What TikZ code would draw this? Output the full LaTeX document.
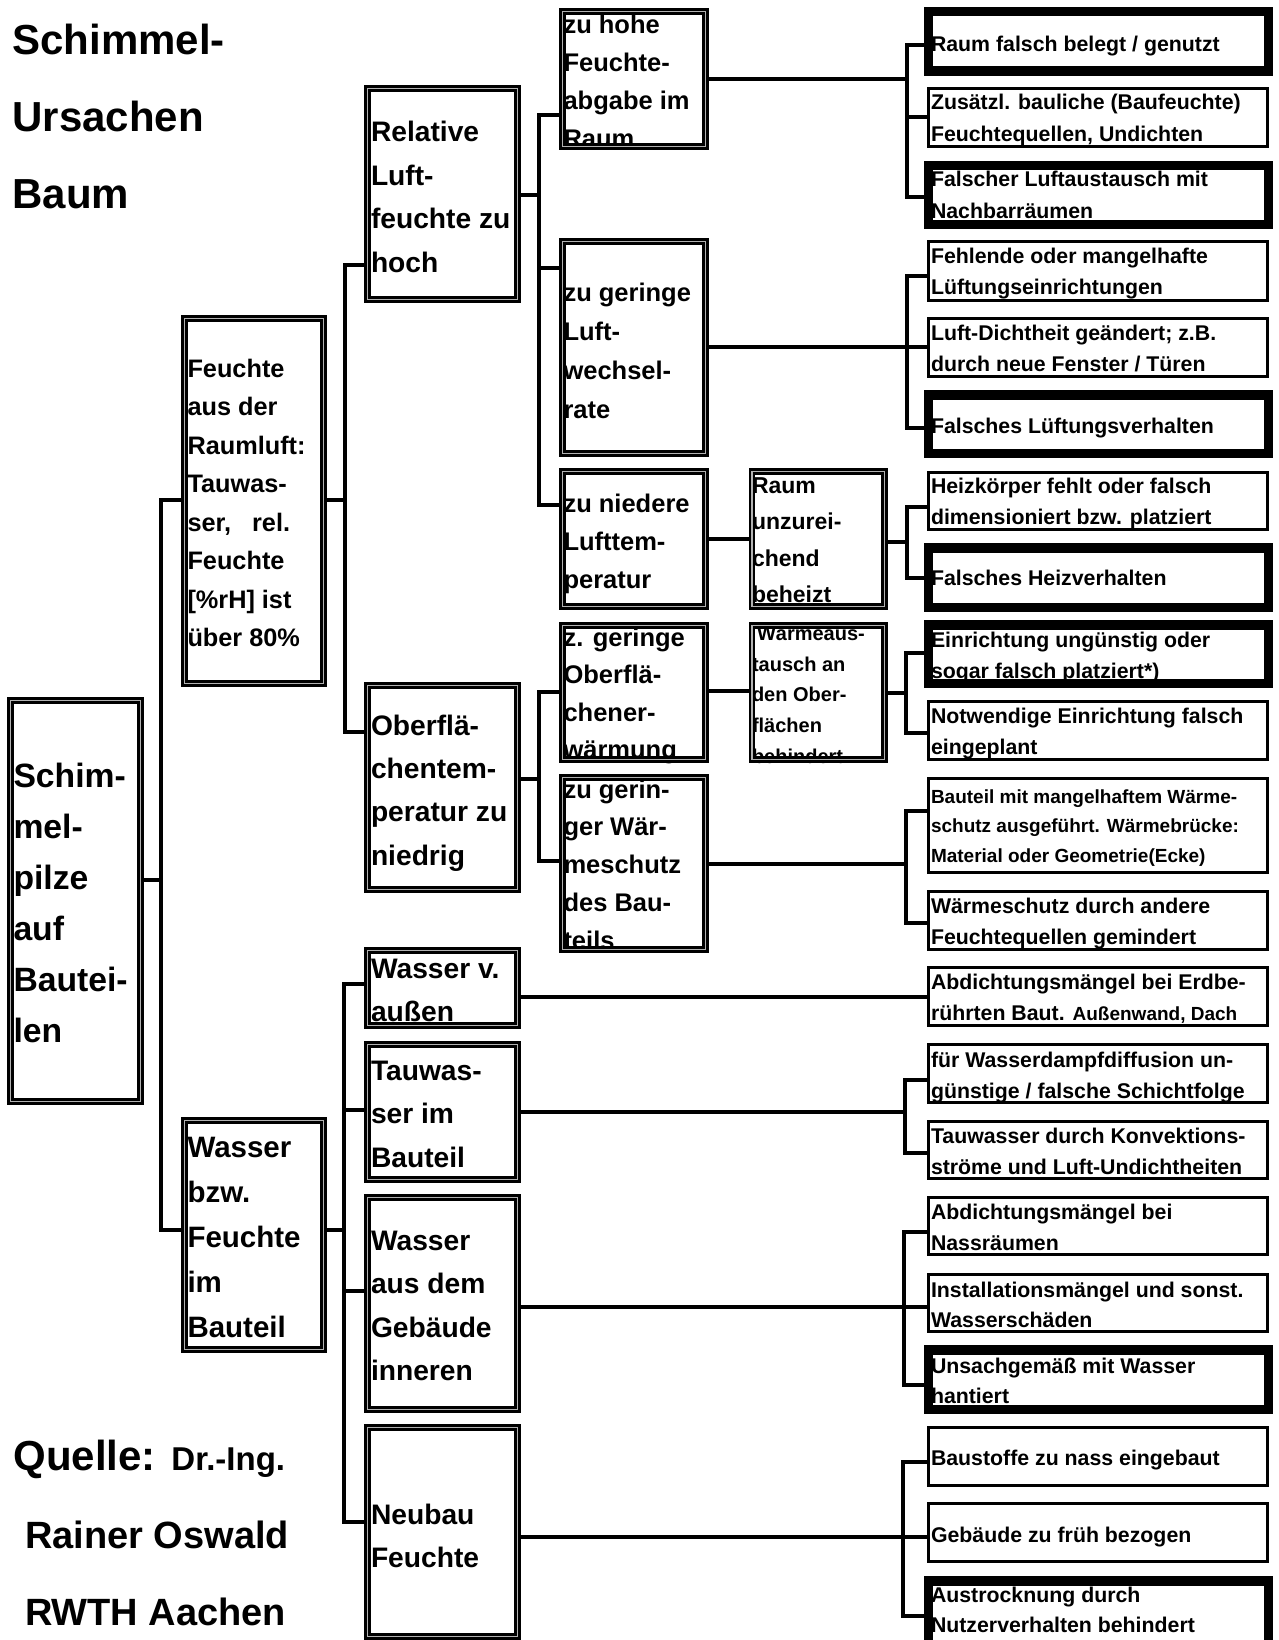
\documentclass[tikz,border=0pt]{standalone}
\usepackage{fontspec}
\setmainfont{Liberation Sans}
\pgfdeclarelayer{bg}
\pgfdeclarelayer{txtl}
\pgfsetlayers{bg,txtl,main}
\newcommand\mkdbl[5]{\node[dblbox, minimum width={#4-#2-6.6}, minimum height={#5-#3-6.6}] (#1) at ({(#2+#4)/2},{(#3+#5)/2}) {};}
\newcommand\mkthin[5]{\node[thinbox, minimum width={#4-#2-3}, minimum height={#5-#3-3}] (#1) at ({(#2+#4)/2},{(#3+#5)/2}) {};}
\newcommand\mkthick[5]{\node[thickbox, minimum width={#4-#2-9.5}, minimum height={#5-#3-9.5}] (#1) at ({(#2+#4)/2},{(#3+#5)/2}) {};}
\newcommand\txtlines[6]{\foreach \l [count=\i] in {#6}{\node[txt, font=\fontsize{#2}{#2}\selectfont\bfseries] (#1-\i) at (#3,{#4+(\i-1)*(#5)}) {\l};}}
\begin{document}
\begin{tikzpicture}[x=1pt,y=-1pt,
  dblbox/.style={draw=black, line width=2.6pt, double=gray!60, double distance=1.4pt, inner sep=0pt, outer sep=0pt, rectangle},
  thinbox/.style={draw=black, line width=3pt, inner sep=0pt, outer sep=0pt, rectangle},
  thickbox/.style={draw=black, line width=9.5pt, inner sep=0pt, outer sep=0pt, rectangle},
  txt/.style={anchor=base west, inner sep=0pt, outer sep=0pt},
  conn/.style={draw=black, line width=3.5pt}]
\useasboundingbox (0,0) rectangle (1278,1640);

% ---------- boxes ----------
\mkdbl{schim}{7}{697}{143.6}{1105}
\mkdbl{feu}{181}{315}{327}{687}
\mkdbl{wbz}{181}{1117}{327}{1353}
\mkdbl{rel}{364}{85}{521}{303}
\mkdbl{obf}{364}{682}{521}{893}
\mkdbl{wva}{364}{947}{521}{1029}
\mkdbl{tau}{364}{1041}{521}{1183}
\mkdbl{wai}{364}{1194}{521}{1413}
\mkdbl{neu}{364}{1424}{521}{1640}
\mkdbl{zuh}{559}{8}{709}{150}
\mkdbl{zug}{559}{238}{709}{457}
\mkdbl{zun}{559}{468}{709}{610}
\mkdbl{zgo}{559}{622}{709}{763}
\mkdbl{zgw}{559}{774}{709}{953}
\mkdbl{raum}{748.5}{468}{888}{610}
\mkdbl{wae}{748.5}{622}{888}{763}

\mkthick{r1}{923.5}{7}{1273}{76}
\mkthin{r2}{927}{87}{1269}{148}
\mkthick{r3}{923.5}{161}{1273}{229}
\mkthin{r4}{927}{240}{1269}{302}
\mkthin{r5}{927}{317}{1269}{378}
\mkthick{r6}{923.5}{390}{1273}{458}
\mkthin{r7}{927}{471}{1269}{531}
\mkthick{r8}{923.5}{543}{1273}{612}
\mkthick{r9}{923.5}{620}{1273}{688}
\mkthin{r10}{927}{700}{1269}{761}
\mkthin{r11}{927}{777}{1269}{874}
\mkthin{r12}{927}{890}{1269}{951}
\mkthin{r13}{927}{966}{1269}{1027}
\mkthin{r14}{927}{1043}{1269}{1104}
\mkthin{r15}{927}{1120}{1269}{1180}
\mkthin{r16}{927}{1196}{1269}{1256}
\mkthin{r17}{927}{1273}{1269}{1333}
\mkthick{r18}{923.5}{1345}{1273}{1414}
\mkthin{r19}{927}{1426}{1269}{1487}
\mkthin{r20}{927}{1502}{1269}{1563}
\mkthick{r21}{923.5}{1576}{1273}{1660}

% ---------- texts ----------
\begin{pgfonlayer}{txtl}
\txtlines{title}{42}{12.5}{55}{76.5}{Schimmel-,Ursachen,Baum}
\node[txt, font=\fontsize{42}{42}\selectfont\bfseries] (src1) at (13.5,1470) {Quelle: {\fontsize{33}{33}\selectfont Dr.-Ing.}};
\txtlines{src}{38}{25}{1548}{77}{Rainer Oswald,RWTH Aachen}

\txtlines{tschim}{33.7}{13.5}{787}{51}{Schim-,mel-,pilze,auf,Bautei-,len}
\txtlines{tfeu}{25.3}{187.5}{377}{38.5}{Feuchte,aus der,Raumluft:,Tauwas-,{ser,\hspace{21pt}rel.},Feuchte,[\%rH] ist,über 80\%}
\txtlines{twbz}{29.5}{187.5}{1157}{45.2}{Wasser,bzw.,Feuchte,im,Bauteil}

\txtlines{trel}{28.2}{371}{142}{43.4}{Relative,Luft-,feuchte zu,hoch}
\txtlines{tobf}{28.2}{371}{735}{43.4}{Oberflä-,chentem-,peratur zu,niedrig}
\txtlines{twva}{28.2}{371}{978}{43.5}{Wasser v.,außen}
\txtlines{ttau}{28.2}{371}{1080}{43.5}{Tauwas-,ser im,Bauteil}
\txtlines{twai}{28.2}{371}{1250}{43.5}{Wasser,aus dem,Gebäude,inneren}
\txtlines{tneu}{28.2}{371}{1524}{43.5}{Neubau,Feuchte}

\txtlines{tzuh}{25.5}{563.5}{34}{38}{zu hohe,Feuchte-,abgabe im,Raum}
\txtlines{tzug}{25.5}{563.5}{301}{39}{zu geringe,Luft-,wechsel-,rate}
\txtlines{tzun}{25.5}{563.5}{512}{38}{zu niedere,Lufttem-,peratur}
\txtlines{tzgo}{25.5}{563.5}{646.5}{37.3}{z. geringe,Oberflä-,chener-,wärmung}
\txtlines{tzgw}{25.5}{563.5}{798}{37.8}{zu gerin-,ger Wär-,meschutz,des Bau-,teils}
\txtlines{traum}{23}{752}{493}{36.5}{Raum,unzurei-,chend,beheizt}
\txtlines{twae}{20}{752}{640.5}{30.7}{\hspace{5pt}Wärmeaus-,tausch an,den Ober-,flächen,behindert}

\txtlines{tr1}{21.3}{931}{52}{31.5}{Raum falsch belegt / genutzt}
\txtlines{tr2}{21.3}{931}{110}{31.5}{Zusätzl. bauliche (Baufeuchte),{Feuchtequellen, Undichten}}
\txtlines{tr3}{21.3}{931}{187}{31.5}{Falscher Luftaustausch mit,Nachbarräumen}
\txtlines{tr4}{21.3}{931}{263}{31.5}{Fehlende oder mangelhafte,Lüftungseinrichtungen}
\txtlines{tr5}{21.3}{931}{340}{31.5}{{Luft-Dichtheit geändert; z.B.},durch neue Fenster / Türen}
\txtlines{tr6}{21.3}{931}{433}{31.5}{Falsches Lüftungsverhalten}
\txtlines{tr7}{21.3}{931}{493}{31.5}{Heizkörper fehlt oder falsch,dimensioniert bzw. platziert}
\txtlines{tr8}{21.3}{931}{585}{31.5}{Falsches Heizverhalten}
\txtlines{tr9}{21.3}{931}{647}{31.5}{Einrichtung ungünstig oder,sogar falsch platziert*)}
\txtlines{tr10}{21.3}{931}{723}{31.5}{Notwendige Einrichtung falsch,eingeplant}
\txtlines{tr11}{19}{931}{803}{29.5}{Bauteil mit mangelhaftem Wärme-,schutz ausgeführt. Wärmebrücke:,Material oder Geometrie(Ecke)}
\txtlines{tr12}{21.3}{931}{913}{31.5}{Wärmeschutz durch andere,Feuchtequellen gemindert}
\txtlines{tr13}{21.3}{931}{989}{31.5}{Abdichtungsmängel bei Erdbe-,{rührten Baut. {\fontsize{19}{19}\selectfont Außenwand, Dach}}}
\txtlines{tr14}{21.3}{931}{1067}{31.5}{für Wasserdampfdiffusion un-,günstige / falsche Schichtfolge}
\txtlines{tr15}{21.3}{931}{1143}{31.5}{Tauwasser durch Konvektions-,ströme und Luft-Undichtheiten}
\txtlines{tr16}{21.3}{931}{1219}{31.5}{Abdichtungsmängel bei,Nassräumen}
\txtlines{tr17}{21.3}{931}{1297}{30.5}{Installationsmängel und sonst.,Wasserschäden}
\txtlines{tr18}{21.3}{931}{1373}{30.5}{Unsachgemäß mit Wasser,hantiert}
\txtlines{tr19}{21.3}{931}{1465}{31.5}{Baustoffe zu nass eingebaut}
\txtlines{tr20}{21.3}{931}{1542}{31.5}{Gebäude zu früh bezogen}
\txtlines{tr21}{21.3}{931}{1602}{30.5}{Austrocknung durch,Nutzerverhalten behindert}
\end{pgfonlayer}

% ---------- connectors ----------
\begin{pgfonlayer}{bg}
\coordinate (j1) at (161,880);
\draw[conn] (schim.east |- j1) -- (j1);
\draw[conn] (feu.west |- 0,500) -| (j1) |- (wbz.west |- 0,1230);

\coordinate (j2) at (345,500);
\draw[conn] (feu.east |- j2) -- (j2);
\draw[conn] (rel.west |- 0,265) -| (j2) |- (obf.west |- 0,732);

\coordinate (j3) at (344,1230);
\draw[conn] (wbz.east |- j3) -- (j3);
\draw[conn] (wva.west |- 0,984) -| (j3) |- (neu.west |- 0,1522);
\draw[conn] (j3 |- 0,1110) -- (tau.west |- 0,1110);
\draw[conn] (j3 |- 0,1291) -- (wai.west |- 0,1291);

\coordinate (j4) at (539,195);
\draw[conn] (rel.east |- j4) -- (j4);
\draw[conn] (zuh.west |- 0,115) -| (j4) |- (zun.west |- 0,505);
\draw[conn] (j4 |- 0,268) -- (zug.west |- 0,268);

\coordinate (j5) at (539,779);
\draw[conn] (obf.east |- j5) -- (j5);
\draw[conn] (zgo.west |- 0,692) -| (j5) |- (zgw.west |- 0,861);

\coordinate (j6) at (907,79);
\draw[conn] (zuh.east |- j6) -- (j6);
\draw[conn] (r1.west |- 0,45) -| (j6) |- (r3.west |- 0,197);
\draw[conn] (j6 |- 0,117) -- (r2.west |- 0,117);

\coordinate (j7) at (907,347);
\draw[conn] (zug.east |- j7) -- (r5.west |- j7);
\draw[conn] (r4.west |- 0,276) -| (j7) |- (r6.west |- 0,428);

\draw[conn] (zun.east |- 0,539) -- (raum.west |- 0,539);

\coordinate (j9) at (907,542);
\draw[conn] (raum.east |- j9) -- (j9);
\draw[conn] (r7.west |- 0,507) -| (j9) |- (r8.west |- 0,578);

\draw[conn] (zgo.east |- 0,691) -- (wae.west |- 0,691);

\coordinate (j11) at (906,693);
\draw[conn] (wae.east |- j11) -- (j11);
\draw[conn] (r9.west |- 0,653) -| (j11) |- (r10.west |- 0,733);

\coordinate (j12) at (906,864);
\draw[conn] (zgw.east |- j12) -- (j12);
\draw[conn] (r11.west |- 0,811) -| (j12) |- (r12.west |- 0,923);

\draw[conn] (wva.east |- 0,997) -- (r13.west |- 0,997);

\coordinate (j14) at (905,1112);
\draw[conn] (tau.east |- j14) -- (j14);
\draw[conn] (r14.west |- 0,1080) -| (j14) |- (r15.west |- 0,1153);

\coordinate (j15) at (904,1307);
\draw[conn] (wai.east |- j15) -- (r17.west |- j15);
\draw[conn] (r16.west |- 0,1232) -| (j15) |- (r18.west |- 0,1385);

\coordinate (j16) at (903,1537);
\draw[conn] (neu.east |- j16) -- (r20.west |- j16);
\draw[conn] (r19.west |- 0,1462) -| (j16) |- (r21.west |- 0,1616);
\end{pgfonlayer}
\end{tikzpicture}
\end{document}
